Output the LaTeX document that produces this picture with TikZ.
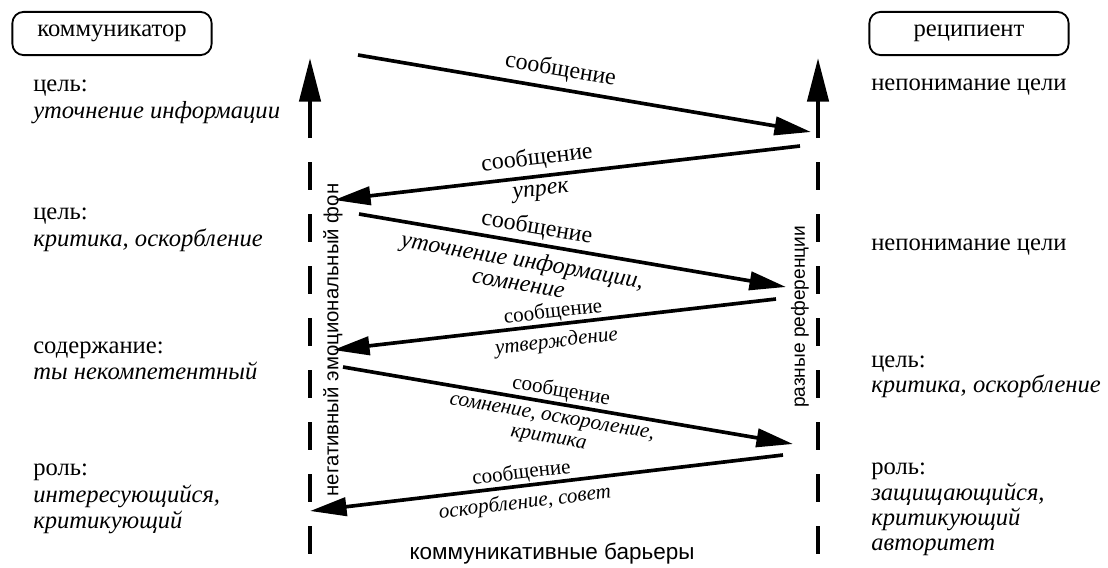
\documentclass[tikz,border=0pt]{standalone}
\usepackage{fontspec}
\setmainfont{Liberation Serif}
\setsansfont{Liberation Sans}
\usetikzlibrary{arrows.meta, positioning}

\begin{document}
\begin{tikzpicture}[x=0.025cm, y=-0.025cm,
    actor/.style={draw, line width=1.3pt, rounded corners=8pt,
                  minimum width=4.98cm, minimum height=1.08cm,
                  font=\fontsize{17.5}{20}\selectfont},
    note/.style={anchor=mid west, inner sep=0pt, font=\fontsize{17.5}{20}\selectfont},
    notei/.style={anchor=mid west, inner sep=0pt, font=\fontsize{17.5}{20}\selectfont\itshape},
    axis/.style={line width=3pt, -{Triangle[length=31pt, width=15pt]}},
    gap/.style={line width=3pt, dash pattern=on 0.7cm off 0.6cm},
    msg/.style={line width=2.6pt, -{Triangle[length=26pt, width=13pt]}},
    msgl/.style={line width=2.6pt, {Triangle[length=26pt, width=13pt]}-},
    lbl/.style={sloped, inner sep=1.5pt, font=\fontsize{17}{17}\selectfont},
    lbli/.style={sloped, inner sep=1.5pt, align=center, font=\fontsize{17}{16.5}\selectfont\itshape},
    lbls/.style={sloped, inner sep=0.5pt, font=\fontsize{15}{14}\selectfont},
    lblsi/.style={sloped, inner sep=1.5pt, align=center, font=\fontsize{15}{15}\selectfont\itshape},
    barrier/.style={inner sep=0pt, font=\sffamily\fontsize{14.5}{16}\selectfont}]
  \useasboundingbox (0,0) rectangle (1108,567);

  % participants
  \node[actor] (comm) at (112,33.5) {коммуникатор};
  \node[actor] (recp) at (969,33.5) {реципиент};

  % axes
  \coordinate (lbot) at (310,567);
  \coordinate (lgap) at (310,162);
  \coordinate (lmid) at (310,138);
  \coordinate (ltop) at (310,58);
  \coordinate (rbot) at (818,567);
  \coordinate (rgap) at (818,162);
  \coordinate (rmid) at (818,138);
  \coordinate (rtop) at (818,58);
  \draw[gap] (lgap) -- (lbot);
  \draw[axis] (lmid) -- (ltop);
  \draw[gap] (rgap) -- (rbot);
  \draw[axis] (rmid) -- (rtop);

  \node[barrier, rotate=90] (fon) at (333,340) {негативный эмоциональный фон};
  \node[barrier, rotate=90, font=\sffamily\fontsize{13.6}{15}\selectfont] (refs) at (800,317) {разные референции};
  \node[barrier, anchor=mid, font=\sffamily\fontsize{16}{17}\selectfont] (bars) at (552,556) {коммуникативные барьеры};

  % left side
  \node[note]  (lg1)  at (33,88)  {цель:};
  \node[notei] (lg1t) at (33,115) {уточнение информации};
  \node[note]  (lg2)  at (33,216) {цель:};
  \node[notei] (lg2t) at (33,243) {критика, оскорбление};
  \node[note]  (lc)   at (33,350) {содержание:};
  \node[notei] (lct)  at (33,376) {ты некомпетентный};
  \node[note]  (lr)   at (33,472) {роль:};
  \node[notei] (lrt1) at (33,499) {интересующийся,};
  \node[notei] (lrt2) at (33,525) {критикующий};

  % right side
  \node[note]  (rn1)  at (871,87)  {непонимание цели};
  \node[note]  (rn2)  at (871,247) {непонимание цели};
  \node[note]  (rg)   at (871,364) {цель:};
  \node[notei] (rgt)  at (871,389) {критика, оскорбление};
  \node[note]  (rr)   at (871,471) {роль:};
  \node[notei] (rrt1) at (871,497) {защищающийся,};
  \node[notei] (rrt2) at (871,522) {критикующий};
  \node[notei] (rrt3) at (871,547) {авторитет};

  % messages
  \coordinate (m1a) at (358,55);  \coordinate (m1b) at (811,132);
  \coordinate (m2a) at (800,146); \coordinate (m2b) at (334,200);
  \coordinate (m3a) at (359,214); \coordinate (m3b) at (786,287);
  \coordinate (m4a) at (776,299); \coordinate (m4b) at (333,350);
  \coordinate (m5a) at (343,367); \coordinate (m5b) at (793,444);
  \coordinate (m6a) at (783,455); \coordinate (m6b) at (310,511);

  \draw[msg] (m1a) -- node[lbl, above=3pt, pos=.44] {сообщение} (m1b);
  \draw[msgl] (m2b) -- node[lbl, above=2pt, pos=.44] {сообщение}
                       node[lbli, below=3pt, pos=.44] {упрек} (m2a);
  \draw[msg] (m3a) -- node[lbl, above=1pt, pos=.41] {сообщение}
                      node[lbli, below=3.5pt, pos=.39] {уточнение информации,\\сомнение} (m3b);
  \draw[msgl] (m4b) -- node[lbls, above=0pt, pos=.50] {сообщение}
                       node[lblsi, below=3pt, pos=.50] {утверждение} (m4a);
  \draw[msg] (m5a) -- node[lbls, above=0.5pt, pos=.48] {сообщение}
                      node[lblsi, below=3.5pt, pos=.47] {сомнение, оскороление,\\критика} (m5b);
  \draw[msgl] (m6b) -- node[lbls, above=0pt, pos=.45] {сообщение}
                       node[lblsi, below=2.5pt, pos=.45] {оскорбление, совет} (m6a);
\end{tikzpicture}
\end{document}
